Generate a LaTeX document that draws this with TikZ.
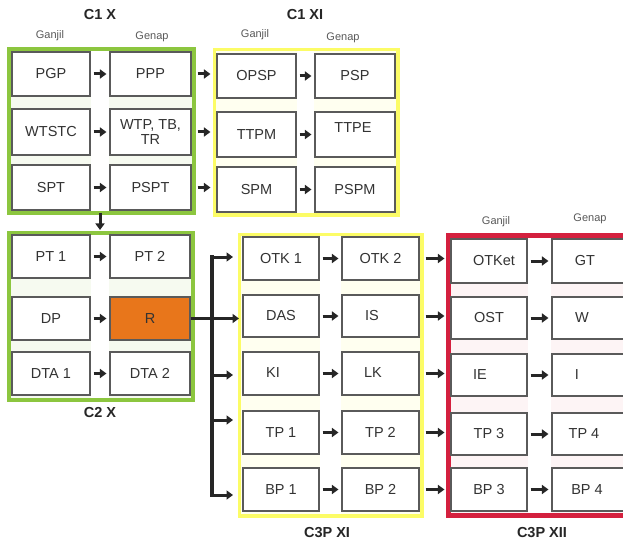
\documentclass[tikz,border=0pt]{standalone}
\usepackage{fontspec}
\setmainfont{Liberation Sans}
\usetikzlibrary{arrows.meta}
\definecolor{frgreen}{HTML}{8CC63F}
\definecolor{fryellow}{HTML}{FCFC66}
\definecolor{frred}{HTML}{D4203E}
\definecolor{rorange}{HTML}{E8761B}
\definecolor{boxline}{HTML}{5A5A5A}
\definecolor{txtc}{HTML}{333333}
\definecolor{arrc}{HTML}{262626}
\begin{document}
\begin{tikzpicture}[x=1pt,y=-1pt,
  box/.style={draw=boxline, line width=1.1pt, fill=white, text=txtc, inner sep=1pt,
    font=\fontsize{14.5}{15.5}\selectfont, align=center},
  txt/.style={text=txtc, inner sep=0pt, font=\fontsize{14.5}{15.5}\selectfont},
  sem/.style={text=black!65, inner sep=0pt, font=\fontsize{11}{13}\selectfont},
  ttl/.style={text=black!85, inner sep=0pt, font=\fontsize{14.5}{16}\selectfont\bfseries},
  arr/.style={draw=arrc, line width=3pt, -{Triangle[length=6.5pt,width=9pt]}, shorten <=3pt, shorten >=3pt},
  arrx/.style={draw=arrc, line width=3pt, -{Triangle[length=6.5pt,width=9pt]}, shorten <=6pt, shorten >=6pt},
  bus/.style={draw=arrc, line width=3.8pt},
  busarr/.style={draw=arrc, line width=3pt, -{Triangle[length=6.5pt,width=9pt]}}
]
\clip (0,0) rectangle (623,545);
\fill[white] (0,0) rectangle (623,545);

% ---------- frames ----------
\draw[frgreen, line width=4.5pt, fill=frgreen!8] (9,49) rectangle (194,213);
\fill[white] (91,51) rectangle (109,211);
\draw[fryellow, line width=3.5pt, fill=fryellow!10] (214.5,49.5) rectangle (398,215);
\fill[white] (297,51) rectangle (314,213);
\draw[frgreen, line width=4.5pt, fill=frgreen!8] (9,233) rectangle (193,400);
\fill[white] (91,235) rectangle (109,398);
\draw[fryellow, line width=3.5pt, fill=fryellow!10] (239.5,234.5) rectangle (422,516);
\fill[white] (320,236) rectangle (341,514);
\draw[frred, line width=5pt, fill=frred!5] (448.5,236) rectangle (650,515);
\fill[white] (528,238) rectangle (551,513);

% ---------- titles ----------
\node[ttl] (t1) at (100,15) {C1 X};
\node[ttl] (t2) at (305,15) {C1 XI};
\node[ttl] (t3) at (100,413) {C2 X};
\node[ttl] (t4) at (327,533) {C3P XI};
\node[ttl] (t5) at (542,533) {C3P XII};
\node[sem] (g1) at (50,36) {Ganjil};
\node[sem] (e1) at (152,37) {Genap};
\node[sem] (g2) at (255,35) {Ganjil};
\node[sem] (e2) at (343,38) {Genap};
\node[sem] (g3) at (496,222) {Ganjil};
\node[sem] (e3) at (590,219) {Genap};

% ---------- C1 X ----------
\node[box, minimum width=78pt, minimum height=44pt] (PGP) at (51,74) {PGP};
\node[box, minimum width=81pt, minimum height=44pt] (PPP) at (150.5,74) {PPP};
\node[box, minimum width=78pt, minimum height=46pt] (WTSTC) at (51,132) {WTSTC};
\node[box, minimum width=81pt, minimum height=46pt] (WTP) at (150.5,132) {WTP, TB,\\TR};
\node[box, minimum width=78pt, minimum height=45pt] (SPT) at (51,187.5) {SPT};
\node[box, minimum width=81pt, minimum height=45pt] (PSPT) at (150.5,187.5) {PSPT};

% ---------- C1 XI ----------
\node[box, minimum width=79pt, minimum height=44pt] (OPSP) at (256.5,76) {OPSP};
\node[box, minimum width=80pt, minimum height=44pt] (PSP) at (355,76) {PSP};
\node[box, minimum width=79pt, minimum height=45pt] (TTPM) at (256.5,134.5) {TTPM};
\node[box, minimum width=80pt, minimum height=45pt] (TTPE) at (355,134.5) {};
\node[txt] (TTPEt) at (353,128) {TTPE};
\node[box, minimum width=79pt, minimum height=45pt] (SPM) at (256.5,189.5) {SPM};
\node[box, minimum width=80pt, minimum height=45pt] (PSPM) at (355,189.5) {PSPM};

% ---------- C2 X ----------
\node[box, minimum width=78pt, minimum height=43pt] (PT1) at (51,256.5) {PT 1};
\node[box, minimum width=80pt, minimum height=43pt] (PT2) at (150,256.5) {PT 2};
\node[box, minimum width=78pt, minimum height=43pt] (DP) at (51,318.5) {DP};
\node[box, minimum width=80pt, minimum height=43pt, fill=rorange, text=black!80] (R) at (150,318.5) {R};
\node[box, minimum width=78pt, minimum height=43pt] (DTA1) at (51,373.5) {DTA 1};
\node[box, minimum width=80pt, minimum height=43pt] (DTA2) at (150,373.5) {DTA 2};

% ---------- C3P XI ----------
\node[box, minimum width=76pt, minimum height=43pt] (OTK1) at (281,258.5) {OTK 1};
\node[box, minimum width=77pt, minimum height=43pt] (OTK2) at (380.5,258.5) {OTK 2};
\node[box, minimum width=76pt, minimum height=42pt] (DAS) at (281,316) {DAS};
\node[box, minimum width=77pt, minimum height=42pt] (IS) at (380.5,316) {};
\node[txt] (ISt) at (372,316) {IS};
\node[box, minimum width=76pt, minimum height=43pt] (KI) at (281,373.5) {};
\node[txt] (KIt) at (273,373) {KI};
\node[box, minimum width=77pt, minimum height=43pt] (LK) at (380.5,373.5) {};
\node[txt] (LKt) at (373,373) {LK};
\node[box, minimum width=76pt, minimum height=43pt] (TP1) at (281,432.5) {TP 1};
\node[box, minimum width=77pt, minimum height=43pt] (TP2) at (380.5,432.5) {TP 2};
\node[box, minimum width=76pt, minimum height=43pt] (BP1) at (281,489.5) {BP 1};
\node[box, minimum width=77pt, minimum height=43pt] (BP2) at (380.5,489.5) {BP 2};

% ---------- C3P XII ----------
\node[box, minimum width=76pt, minimum height=44pt] (OTKet) at (489,261) {};
\node[txt] (OTKett) at (494,261) {OTKet};
\node[box, minimum width=80pt, minimum height=44pt] (GT) at (592,261) {};
\node[txt] (GTt) at (585,261) {GT};
\node[box, minimum width=76pt, minimum height=42pt] (OST) at (489,318) {OST};
\node[box, minimum width=80pt, minimum height=42pt] (W) at (592,318) {};
\node[txt] (Wt) at (582,318) {W};
\node[box, minimum width=76pt, minimum height=42pt] (IE) at (489,375) {};
\node[txt] (IEt) at (480,375) {IE};
\node[box, minimum width=80pt, minimum height=42pt] (I) at (592,375) {};
\node[txt] (It) at (577,375) {I};
\node[box, minimum width=76pt, minimum height=42pt] (TP3) at (489,434) {TP 3};
\node[box, minimum width=80pt, minimum height=42pt] (TP4) at (592,434) {};
\node[txt] (TP4t) at (584,434) {TP 4};
\node[box, minimum width=76pt, minimum height=43pt] (BP3) at (489,489.5) {BP 3};
\node[box, minimum width=80pt, minimum height=43pt] (BP4) at (592,489.5) {};
\node[txt] (BP4t) at (587,489.5) {BP 4};

% ---------- arrows inside C1 X and C1 XI ----------
\draw[arr] (PGP) -- (PPP);
\draw[arr] (WTSTC) -- (WTP);
\draw[arr] (SPT) -- (PSPT);
\draw[arr] (OPSP) -- (PSP);
\draw[arr] (TTPM) -- (TTPE);
\draw[arr] (SPM) -- (PSPM);
% C1 X -> C1 XI
\draw[arrx] (PPP.east) -- (PPP.east -| OPSP.west);
\draw[arrx] (WTP.east) -- (WTP.east -| TTPM.west);
\draw[arrx] (PSPT.east) -- (PSPT.east -| SPM.west);
% C1 X -> C2 X
\coordinate (dtop) at (100,213);
\coordinate (dbot) at (100,230);
\draw[busarr] (dtop) -- (dbot);
% C2 X
\draw[arr] (PT1) -- (PT2);
\draw[arr] (DP) -- (R);
\draw[arr] (DTA1) -- (DTA2);
% bus from R
\coordinate (bx) at (212,318.5);
\coordinate (btop) at (212,257);
\coordinate (bbot) at (212,495);
\draw[bus] (R.east) -- (bx);
\draw[bus, line cap=rect] (btop) -- (bbot);
\draw[busarr] (btop) -- (btop -| 233,0);
\draw[busarr] (bx) -- (239,318.5);
\draw[busarr] (212,375) -- (233,375);
\draw[busarr] (212,420) -- (233,420);
\draw[busarr] (bbot) -- (bbot -| 233,0);
% C3P XI
\draw[arr] (OTK1) -- (OTK2);
\draw[arr] (DAS) -- (IS);
\draw[arr] (KI) -- (LK);
\draw[arr] (TP1) -- (TP2);
\draw[arr] (BP1) -- (BP2);
% C3P XI -> C3P XII
\draw[arrx] (OTK2.east) -- (OTK2.east -| OTKet.west);
\draw[arrx] (IS.east) -- (IS.east -| OST.west);
\draw[arrx] (LK.east) -- (LK.east -| IE.west);
\draw[arrx] (TP2.east) -- (TP2.east -| TP3.west);
\draw[arrx] (BP2.east) -- (BP2.east -| BP3.west);
% C3P XII
\draw[arr] (OTKet) -- (GT);
\draw[arr] (OST) -- (W);
\draw[arr] (IE) -- (I);
\draw[arr] (TP3) -- (TP4);
\draw[arr] (BP3) -- (BP4);
\end{tikzpicture}
\end{document}
